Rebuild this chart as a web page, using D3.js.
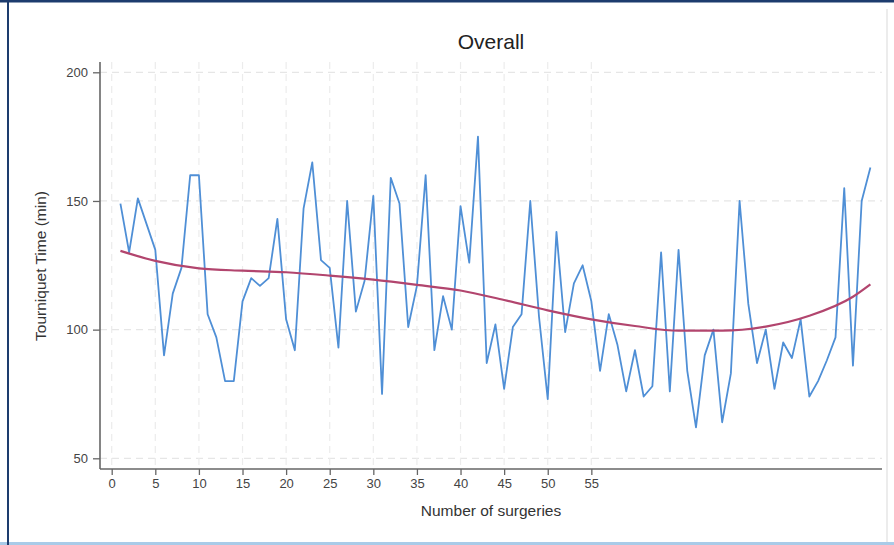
<!DOCTYPE html>
<html>
<head>
<meta charset="utf-8">
<script src="https://cdn.jsdelivr.net/npm/d3@7"></script>
<style>
  html, body { margin: 0; padding: 0; background: #ffffff; }
  svg { display: block; font-family: "Liberation Sans", Arial, Helvetica, sans-serif; }
</style>
</head>
<body>
<svg id="chart" width="894" height="545"></svg>
<script>
// ---- data ----
const surgeries = d3.range(1, 88); // 1..87
const tourniquetTime = [
  149, 130, 151, 141, 131, 90, 114, 124, 160, 160,
  106, 97, 80, 80, 111, 120, 117, 120, 143, 104,
  92, 147, 165, 127, 124, 93, 150, 107, 119, 152,
  75, 159, 149, 101, 117, 160, 92, 113, 100, 148,
  126, 175, 87, 102, 77, 101, 106, 150, 105, 73,
  138, 99, 118, 125, 111, 84, 106, 94, 76, 92,
  74, 78, 130, 76, 131, 84, 62, 90, 100, 64,
  83, 150, 110, 87, 100, 77, 95, 89, 104, 74,
  80, 88, 97, 155, 86, 150, 163
];
const fitX = [1, 5, 10, 15, 20, 25, 30, 35, 40, 45, 50, 55, 60, 65, 70, 75, 80, 85, 87];
const fitY = [130.6, 126.7, 123.8, 122.9, 122.3, 121, 119.4, 117.4, 115.2, 111.5, 107.5, 104, 101.4, 99.6, 99.6, 101.2, 105.4, 112.8, 117.6];
const xTicks = [0, 5, 10, 15, 20, 25, 30, 35, 40, 45, 50, 55];
const yTicks = [50, 100, 150, 200];
const titleText = "Overall";
const xLabel = "Number of surgeries";
const yLabel = "Tourniquet Time (min)";

// ---- layout ----
const svg = d3.select("#chart");
const plotLeft = 100, plotRight = 882, plotTop = 62, plotBottom = 469;

const x = d3.scaleLinear().domain([0, 87]).range([111.7, 870.4]);
const y = d3.scaleLinear().domain([50, 200]).range([458.3, 72.3]);

// frame
svg.append("rect").attr("x", 0).attr("y", 0).attr("width", 894).attr("height", 545).attr("fill", "#fff");
svg.append("line").attr("x1", 887).attr("x2", 887).attr("y1", 9).attr("y2", 542).attr("stroke", "#d9d9d9").attr("stroke-width", 1);
svg.append("line").attr("x1", 0).attr("x2", 894).attr("y1", 543.5).attr("y2", 543.5).attr("stroke", "#a9cbe8").attr("stroke-width", 3);
svg.append("line").attr("x1", 0).attr("x2", 894).attr("y1", 1).attr("y2", 1).attr("stroke", "#1d3c6e").attr("stroke-width", 3);
svg.append("line").attr("x1", 8).attr("x2", 8).attr("y1", 0).attr("y2", 545).attr("stroke", "#1d3c6e").attr("stroke-width", 2);

// grid
const grid = svg.append("g");
grid.selectAll("line.h").data(yTicks).join("line")
  .attr("x1", plotLeft).attr("x2", plotRight)
  .attr("y1", d => y(d)).attr("y2", d => y(d))
  .attr("stroke", "#e6e6e6").attr("stroke-width", 1.2).attr("stroke-dasharray", "7,5");
grid.selectAll("line.v").data(xTicks).join("line")
  .attr("x1", d => x(d)).attr("x2", d => x(d))
  .attr("y1", plotTop).attr("y2", plotBottom)
  .attr("stroke", "#ececec").attr("stroke-width", 1.2).attr("stroke-dasharray", "7,5");

// axes
const yAxis = d3.axisLeft(y).tickValues(yTicks).tickSize(7).tickPadding(5).tickFormat(d3.format("d"));
const yg = svg.append("g").attr("transform", `translate(${plotLeft},0)`).call(yAxis);
yg.select(".domain").remove();
yg.append("line").attr("x1", 0).attr("x2", 0).attr("y1", plotTop).attr("y2", plotBottom).attr("stroke", "#666").attr("stroke-width", 1.6);
yg.selectAll(".tick line").attr("stroke", "#666").attr("stroke-width", 1.3);
yg.selectAll(".tick text").attr("font-size", 13).attr("fill", "#444");

const xAxis = d3.axisBottom(x).tickValues(xTicks).tickSize(6).tickPadding(4).tickFormat(d3.format("d"));
const xg = svg.append("g").attr("transform", `translate(0,${plotBottom})`).call(xAxis);
xg.select(".domain").remove();
xg.append("line").attr("x1", plotLeft).attr("x2", plotRight).attr("y1", 0).attr("y2", 0).attr("stroke", "#666").attr("stroke-width", 1.6);
xg.selectAll(".tick line").attr("stroke", "#666").attr("stroke-width", 1.3);
xg.selectAll(".tick text").attr("font-size", 13).attr("fill", "#444");

// series
const pts = surgeries.map((n, i) => [n, tourniquetTime[i]]);
svg.append("path").datum(pts)
  .attr("fill", "none").attr("stroke", "#4f8fd6").attr("stroke-width", 1.8).attr("stroke-linejoin", "round")
  .attr("d", d3.line().x(d => x(d[0])).y(d => y(d[1])));

const fitPts = fitX.map((n, i) => [n, fitY[i]]);
svg.append("path").datum(fitPts)
  .attr("fill", "none").attr("stroke", "#b2456e").attr("stroke-width", 2.2)
  .attr("d", d3.line().curve(d3.curveMonotoneX).x(d => x(d[0])).y(d => y(d[1])));

// labels
svg.append("text").attr("x", 491).attr("y", 49).attr("text-anchor", "middle")
  .attr("font-size", 21).attr("fill", "#222").text(titleText);
svg.append("text").attr("x", 491).attr("y", 516).attr("text-anchor", "middle")
  .attr("font-size", 15.5).attr("fill", "#333").text(xLabel);
svg.append("text").attr("transform", "translate(46,266) rotate(-90)").attr("text-anchor", "middle")
  .attr("font-size", 15.5).attr("fill", "#333").text(yLabel);
</script>
</body>
</html>
